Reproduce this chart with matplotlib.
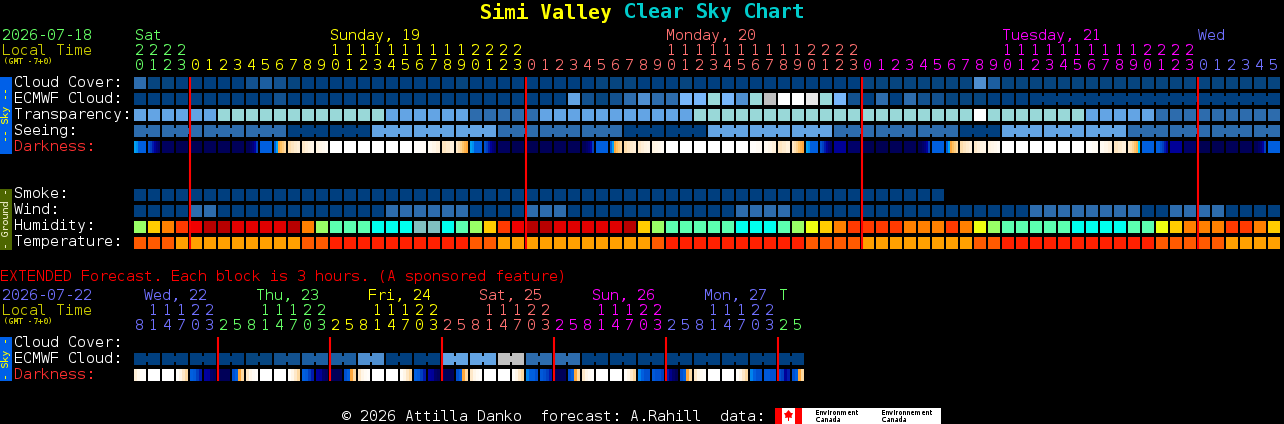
import numpy as np
import matplotlib
matplotlib.use('Agg')
from matplotlib import pyplot as plt
from matplotlib.colors import LinearSegmentedColormap

W, H = 1284, 424

# --- main chart: 82 hourly blocks, values are palette levels
hours = [20,21,22,23] + list(range(24))*3 + list(range(6))

cloud = [4,1,1,0,0,0,0,0,2,3,
         2,1,0,0,0,0,0,0,0,0,
         0,0,0,1,0,0,0,0,0,0,
         0,0,0,1,1,1,0,0,0,1,
         0,0,0,0,0,0,0,0,0,0,
         0,0,1,1,1,1,1,1,1,1,
         5,3,1,1,1,1,1,1,1,1,
         1,1,1,1,1,1,1,1,1,1,1,1]
ecmwf = [0,0,0,0,0,0,0,0,0,0,
         2,0,0,0,0,0,0,0,0,0,
         0,0,0,0,0,0,0,0,0,0,
         0,6,2,1,2,4,5,4,4,7,
         7,8,7,5,8,9,11,11,10,8,
         7,2,0,4,0,4,2,2,1,1,
         1,0,0,0,0,0,0,0,0,0,
         0,0,0,0,0,0,0,0,0,0,0,0]
transparency = [6,6,6,6,6,6,8,8,8,8,
                8,8,8,8,8,8,8,8,6,6,
                6,6,6,6,4,4,4,4,4,6,
                6,6,6,6,6,6,6,6,6,6,
                8,8,8,8,8,8,8,8,8,8,
                8,8,8,8,8,8,8,8,8,8,
                11,8,8,8,8,8,8,8,6,6,
                6,6,6,4,4,4,4,4,4,4,4,4]
seeing = [4,4,4,4,4,4,4,4,4,4,
          4,0,0,0,0,0,0,6,6,6,
          6,6,6,6,6,6,4,4,4,4,
          4,4,4,4,4,0,0,0,0,0,
          0,6,6,6,6,6,6,6,6,6,
          4,4,4,4,4,4,4,4,4,0,
          0,0,6,6,6,6,6,6,6,6,
          6,4,4,4,4,4,4,4,4,4,4,4]
smoke = [0]*58
wind = [0,0,0,0,4,4,0,0,0,0,
        0,0,0,0,0,0,0,0,4,4,
        4,4,4,4,0,0,0,0,4,4,
        4,0,0,0,0,0,0,0,0,0,
        0,0,0,4,4,4,4,0,0,0,
        0,0,0,0,0,0,0,0,0,0,
        0,0,0,0,4,4,4,4,4,4,
        4,4,0,0,4,4,4,4,0,0,0,0]
humidity = [7,5,4,3,2,0,0,1,1,1,
            1,0,4,7,8,8,8,9,9,9,
            10,10,9,8,7,5,3,2,0,0,
            1,1,1,1,1,0,5,7,8,8,
            8,8,8,9,9,9,8,7,6,5,
            4,3,3,3,3,4,4,4,3,4,
            6,7,8,8,8,8,8,9,9,9,
            9,8,8,6,5,4,4,4,3,3,4,5]
temperature = [1,1,1,0,0,0,0,0,0,0,
               0,0,1,1,2,2,2,2,2,2,
               2,2,2,2,1,1,0,0,0,0,
               0,0,0,0,0,0,0,1,2,2,
               2,2,2,2,2,2,2,2,1,1,
               1,1,0,0,0,0,0,0,0,0,
               1,1,2,2,2,2,2,2,2,2,
               2,2,2,1,1,1,1,1,0,0,0,0]

# darkness samples inside each block, 0 = daylight, 1 = full night
dusk = [.46,.47,.5,.5,.5,.5]
fade = [.55,.6,.66,.72,.8,.85]
rise = [.9,.9,.85,.8,.7,.6]
dawn = [.5,.46,.42,.38,.34,.3]
noon = [0]
darkness = [dusk,fade,[.88],[.92],[.92],[.9],[.9],[.9],rise,[.5],
            dawn,[.27,.22,.18,.15],[.2,.15,.12,.1],[.12,.1,.08,.05],noon,noon,noon,noon,noon,noon,
            [.02,.04],[.06,.1,.14],[.22,.18,.14],[.2,.26,.32,.37,.4,.42],dusk,fade,[.88],[.92],[.92],[.9],
            [.9],[.9],rise,[.5],dawn,[.27,.22,.18,.15],[.2,.15,.12,.1],[.12,.1,.08,.05],noon,noon,
            noon,noon,noon,noon,[.02,.05],[.06,.1,.14],[.22,.18,.14],[.2,.26,.32,.37,.4,.42],dusk,fade,
            [.72],[.85],[.92],[.92],[.9],[.9],rise,[.5],dawn,[.27,.22,.18,.15],
            [.2,.15,.12,.1],[.12,.1,.08,.05],noon,noon,noon,noon,noon,noon,[.02,.05],[.06,.1,.14],
            [.22,.18,.14],[.2,.26,.32,.37,.4,.43],[.5],[.5,.5,.55,.6,.66,.72],[.72],[.85],[.92],[.92],[.9],[.9],
            rise,[.5]]

# --- extended chart: 48 blocks of 3 hours
ext_hours = [8,11,14,17,20,23] + [2,5,8,11,14,17,20,23]*5 + [2,5]
ext_ecmwf = [0,0,0,0,0,0,0,0,1,1,2,2,3,3,3,3,5,5,0,0,0,0,6,6,
             6,6,9,9,4,4,4,4,0,0,0,0,0,0,0,0,0,0,0,0,0,0,0,0]
ext_darkness = [[.16,.08,.03,.02],noon,noon,[.03,.1,.2,.3],[.5,.52,.6,.66],[.7,.72,.85,.88],[.9],[.55,.5,.42,.3],
                [.2,.1,.05,.02],noon,noon,[.03,.1,.2,.3],[.5,.52,.6,.66],[.7,.72,.85,.88],[.9],[.55,.5,.42,.3],
                [.2,.1,.05,.02],noon,noon,[.03,.1,.2,.3],[.5,.52,.6,.66],[.7,.72,.85,.88],[.9],[.55,.5,.42,.3],
                [.2,.1,.05,.02],noon,noon,[.03,.1,.2,.3],[.48,.5,.5,.55],[.52,.55,.6,.66],[.9],[.55,.5,.42,.3],
                [.2,.1,.05,.02],noon,noon,[.03,.1,.2,.3],[.48,.5,.55,.55],[.52,.55,.55,.6],[.66,.75,.85,.9],[.55,.5,.42,.3],
                [.2,.1,.05,.02],noon,noon,[.03,.1,.2,.3],[.48,.5,.55,.55],[.52,.52,.55,.55],[.55,.6,.72,.66],[.55,.5,.42,.3]]

# --- colours
blues = ['#003f7f','#06457f','#12518f','#1c5ea0','#2d6cad','#4f8fd0',
         '#63a4e4','#78b7fa','#99d8d8','#c0c0c0','#e8e8e8','#ffffff']
wet = ['#b80000','#e00000','#f00000','#ff3a00','#ff8000','#ffcc00',
       '#eeff11','#99ff66','#5cffb0','#00ffee','#80bfbf']
temps = ['#ffa000','#ff5a00','#ff2000']
dark_cmap = LinearSegmentedColormap.from_list('dark', [
    (0,'#ffffff'),(.1,'#fff6e8'),(.2,'#fee8c8'),(.3,'#fdd9a0'),(.38,'#ffc060'),(.43,'#ffa030'),
    (.4301,'#00d0ff'),(.47,'#0090f0'),(.5,'#0060e0'),(.6,'#0040c0'),(.7,'#0000a0'),
    (.8,'#00007a'),(.9,'#000058'),(1,'#000040')])

GREEN, YELLOW, SALMON, MAGENTA, PURPLE = '#66ff66', '#ffff00', '#ff7070', '#ff00ff', '#7070ff'
CELL_W, CELL_H = 12/14, 12/16

plt.rcParams['font.family'] = ['DejaVu Sans Mono']
plt.rcParams['text.hinting'] = 'native'
plt.rcParams['text.hinting_factor'] = 1

fig = plt.figure(figsize=(W/100, H/100), dpi=100, facecolor='black')


def grid_axes(top, ncols, nrows):
    ax = fig.add_axes([134/W, 1-(top+nrows*16)/H, ncols*14/W, nrows*16/H])
    ax.set_xlim(0, ncols)
    ax.set_ylim(nrows, 0)
    ax.axis('off')
    return ax


def blocks(ax, row, values, palette):
    x = np.arange(len(values))
    ax.bar(x, CELL_H, width=CELL_W, bottom=row, align='edge', color=[palette[v] for v in values], linewidth=0)


def links(ax, row, values, palette, cols):
    # the small necks joining blocks that share one forecast step
    for c in cols:
        ax.bar(c+CELL_W, 6/16, width=1-CELL_W, bottom=row+3/16, align='edge', color=palette[values[c]], linewidth=0)


def dark_blocks(ax, row, samples):
    for c, s in enumerate(samples):
        edges = c + np.linspace(0, CELL_W, len(s)+1)
        ax.pcolormesh(edges, [row, row+CELL_H], [s], cmap=dark_cmap, vmin=0, vmax=1, linewidth=0)


main = grid_axes(77, 82, 11)
blocks(main, 0, cloud, blues)
blocks(main, 1, ecmwf, blues)
links(main, 1, ecmwf, blues, range(64, 81))
blocks(main, 2, transparency, blues)
blocks(main, 3, seeing, blues)
links(main, 3, seeing, blues, [c for c in range(81) if (c-1) % 3 != 0])
dark_blocks(main, 4, darkness)
blocks(main, 7, smoke, blues)
blocks(main, 8, wind, blues)
blocks(main, 9, humidity, wet)
blocks(main, 10, temperature, temps)
main.vlines([4, 28, 52, 76], 0, 10+CELL_H, color='#ff0000', linewidth=1.5)

ext = grid_axes(337, 48, 3)
blocks(ext, 1, ext_ecmwf, blues)
links(ext, 1, ext_ecmwf, blues, range(0, 47, 2))
dark_blocks(ext, 2, ext_darkness)
ext.vlines([6, 14, 22, 30, 38, 46], 0, 2+CELL_H, color='#ff0000', linewidth=1.5)

# overlay in pixels for all the lettering
top = fig.add_axes([0, 0, 1, 1])
top.set_xlim(0, W)
top.set_ylim(H, 0)
top.axis('off')
top.patch.set_alpha(0)


def txt(x, y, s, color='white', size=10.8, **kw):
    top.text(x, y+1, s, color=color, fontsize=size, va='center', **kw)


def small(x, y, s, color, size, **kw):
    top.text(x, y, s, color=color, fontsize=size, va='center', **kw)


txt(480, 12, 'Simi Valley', YELLOW, 14.4, fontweight='bold')
txt(624, 12, 'Clear Sky Chart', '#00cccc', 14.4, fontweight='bold')

txt(2, 35, '2026-07-18', GREEN)
txt(2, 50, 'Local Time', '#c8c800')
small(3, 62, '(GMT -7+0)', '#c8c800', 5.6)
for x, s, c in [(135, 'Sat', GREEN), (330, 'Sunday, 19', YELLOW), (666, 'Monday, 20', SALMON),
                (1002, 'Tuesday, 21', MAGENTA), (1198, 'Wed', PURPLE)]:
    txt(x, 35, s, c)

for c, h in enumerate(hours):
    color = GREEN if c < 4 else [YELLOW, SALMON, MAGENTA, PURPLE][(c-4)//24]
    x = 135 + 14*c
    if h >= 10:
        txt(x, 50, str(h//10), color)
    txt(x, 65, str(h % 10), color)

for y, s in [(82, 'Cloud Cover:'), (98, 'ECMWF Cloud:'), (114, 'Transparency:'), (130, 'Seeing:'),
             (193, 'Smoke:'), (209, 'Wind:'), (225, 'Humidity:'), (241, 'Temperature:')]:
    txt(14, y, s)
txt(14, 146, 'Darkness:', '#ff3030')

txt(0, 276, 'EXTENDED Forecast. Each block is 3 hours. (A sponsored feature)', '#ff0000')
txt(2, 295, '2026-07-22', PURPLE)
txt(2, 310, 'Local Time', '#c8c800')
small(3, 322, '(GMT -7+0)', '#c8c800', 5.6)
for x, s, c in [(144, 'Wed, 22', PURPLE), (256, 'Thu, 23', GREEN), (368, 'Fri, 24', YELLOW),
                (479, 'Sat, 25', SALMON), (592, 'Sun, 26', MAGENTA), (704, 'Mon, 27', PURPLE), (779, 'T', GREEN)]:
    txt(x, 295, s, c)
for c, h in enumerate(ext_hours):
    color = PURPLE if c < 6 else [GREEN, YELLOW, SALMON, MAGENTA, PURPLE, GREEN][(c-6)//8]
    x = 135 + 14*c
    if h >= 10:
        txt(x, 310, str(h//10), color)
    txt(x, 325, str(h % 10), color)
for y, s in [(342, 'Cloud Cover:'), (358, 'ECMWF Cloud:')]:
    txt(14, y, s)
txt(14, 374, 'Darkness:', '#ff3030')

# side strips
top.bar(0, 77, width=12, bottom=77, align='edge', color='#0060e8', linewidth=0)
top.bar(0, 61, width=12, bottom=189, align='edge', color='#4d6600', linewidth=0)
top.bar(0, 44, width=12, bottom=337, align='edge', color='#0060e8', linewidth=0)
small(6, 115, '-- Sky --', '#ffff00', 7.5, rotation=90, ha='center')
small(6, 219, '- Ground -', '#e8e8c0', 7.5, rotation=90, ha='center')
small(6, 359, '- Sky -', '#ffff00', 7.5, rotation=90, ha='center')

# footer
txt(342, 416, '\u00a9 2026 Attilla Danko  forecast: A.Rahill  data:')
top.bar(775, 16, width=166, bottom=408, align='edge', color='white', linewidth=0)
top.bar([775, 795], 16, width=7, bottom=408, align='edge', color='#ff0000', linewidth=0)
top.fill([788.5, 791, 793, 791.5, 792, 789, 789, 788, 788, 785, 785.5, 784, 786, 788.5],
         [410, 413, 413, 416, 418, 417.5, 421, 421, 417.5, 418, 416, 413, 413, 410], color='#ff0000', linewidth=0)
for x, s in [(815, 'Environment'), (881, 'Environnement')]:
    small(x, 412.5, s, 'black', 5.4, family='DejaVu Sans')
    small(x, 420, 'Canada', 'black', 5.4, family='DejaVu Sans')

fig.savefig('out.png', dpi=100, facecolor='black')
